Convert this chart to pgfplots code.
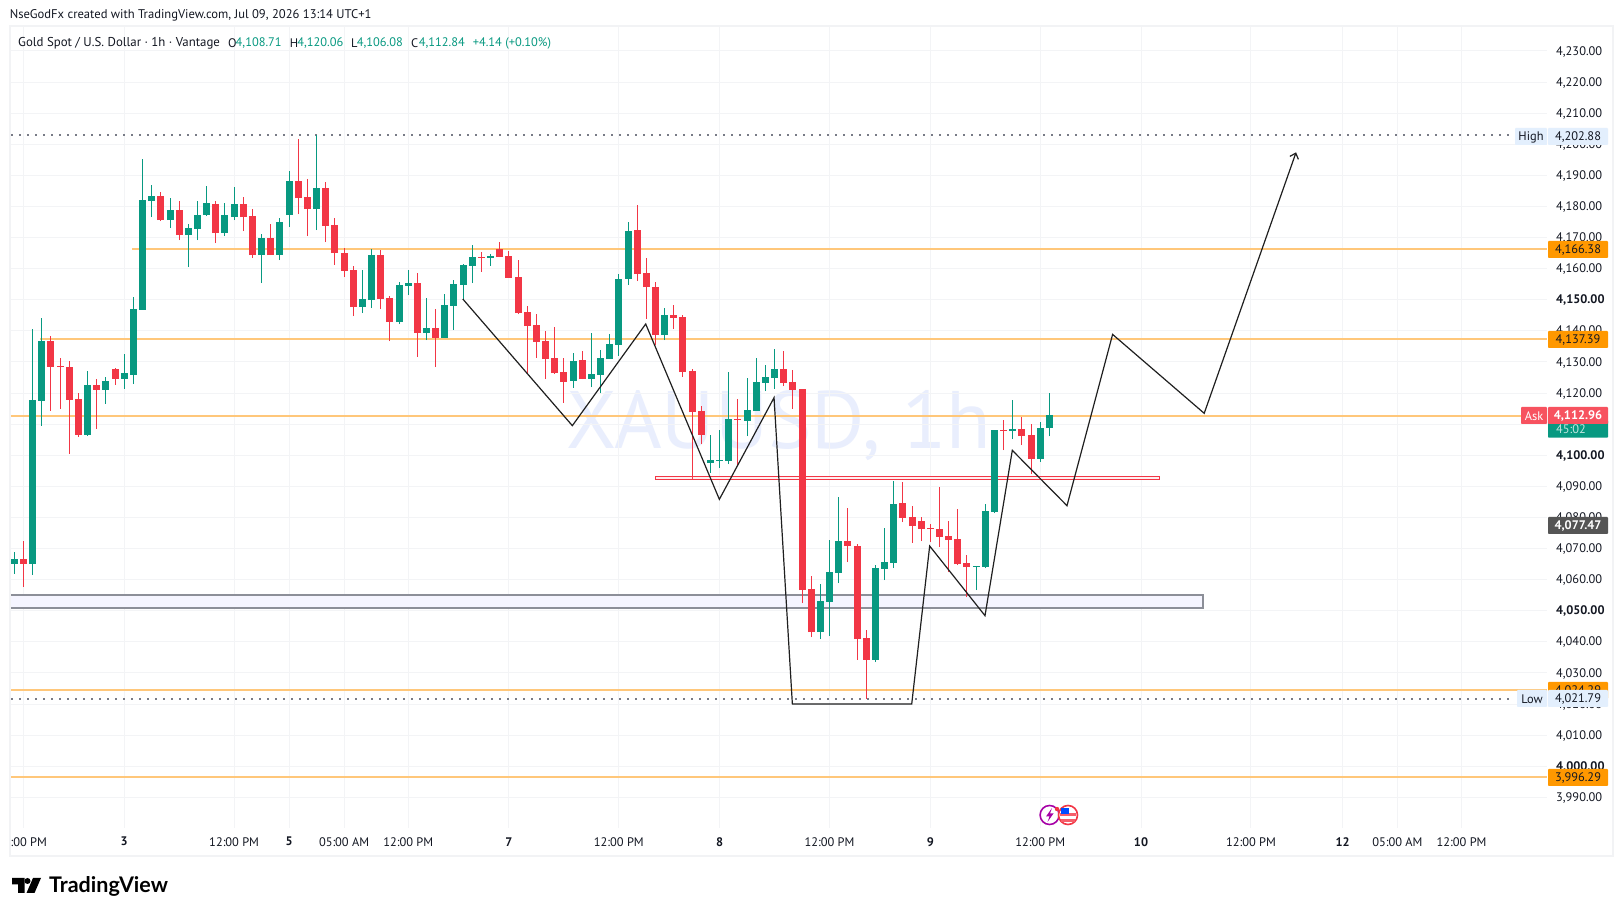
\documentclass[border=0pt]{standalone}
\usepackage{fontspec}
\setmainfont{PT Sans}
\newfontfamily\logofont{Lato}
\usepackage{pgfplots}
\usepackage{pgfplotstable}
\pgfplotsset{compat=1.18}
\usetikzlibrary{arrows.meta}
\definecolor{tvgreen}{HTML}{089981}
\definecolor{tvred}{HTML}{F23645}
\definecolor{tvorange}{HTML}{FFC77A}
\definecolor{tvgrid}{HTML}{F3F4F6}
\definecolor{tvtext}{HTML}{131722}
\definecolor{tvframe}{HTML}{F2F3F5}
\definecolor{tvgrey}{HTML}{787B86}
\definecolor{tagorange}{HTML}{FF9800}
\definecolor{tagblue}{HTML}{E3EFFD}
\definecolor{tagred}{HTML}{F7525F}
\definecolor{tagdark}{HTML}{555555}
\definecolor{wm}{HTML}{E9EEFD}
\newcommand\lab{\fontsize{12.4}{14}\selectfont}
\pgfplotstableread{
i o h l c
0 4065.05 4068.91 4061.84 4066.66
2 4065.05 4140.62 4061.52 4117.79
3 4117.46 4144.15 4109.43 4136.76
8 4106.53 4127.11 4106.21 4122.61
10 4121.00 4125.18 4116.50 4123.89
12 4124.54 4132.58 4121.32 4126.47
13 4125.82 4150.90 4122.92 4147.04
14 4146.72 4195.27 4146.72 4182.09
15 4181.76 4186.91 4176.62 4183.37
17 4175.65 4182.73 4173.08 4178.87
19 4170.83 4174.37 4160.54 4173.08
20 4172.76 4181.76 4169.22 4177.26
21 4177.26 4186.59 4176.94 4181.12
23 4171.47 4181.12 4170.51 4177.26
24 4176.62 4186.27 4175.65 4180.80
27 4164.40 4171.15 4155.40 4169.87
29 4164.40 4176.30 4162.79 4175.01
30 4177.26 4191.41 4173.40 4188.19
33 4179.19 4202.88 4172.44 4185.94
38 4147.68 4159.58 4145.75 4150.25
39 4149.93 4166.33 4147.36 4164.40
42 4142.86 4155.72 4142.21 4154.75
43 4154.44 4159.58 4151.54 4155.40
45 4139.32 4150.58 4137.07 4140.93
47 4137.72 4151.86 4137.72 4148.33
48 4148.01 4156.37 4140.29 4155.08
49 4154.76 4161.51 4149.93 4161.19
50 4160.87 4167.62 4155.40 4163.76
52 4163.44 4164.73 4160.87 4164.08
61 4123.89 4132.89 4121.64 4130.32
63 4124.53 4139.32 4121.96 4126.14
64 4125.82 4133.86 4120.03 4131.29
65 4130.96 4139.00 4130.96 4135.79
66 4135.47 4158.29 4131.93 4156.69
67 4156.69 4175.02 4154.76 4172.12
71 4138.68 4147.36 4137.07 4145.11
76 4097.52 4106.53 4094.31 4098.49
77 4098.17 4108.13 4095.92 4098.49
78 4098.17 4126.78 4097.20 4111.67
80 4111.03 4124.85 4106.20 4114.57
81 4114.24 4131.29 4114.24 4123.57
82 4123.25 4129.03 4120.67 4125.18
83 4124.85 4134.18 4121.32 4127.75
88 4043.18 4058.61 4040.93 4053.15
89 4052.83 4072.76 4041.89 4062.47
90 4062.15 4086.59 4058.93 4072.44
94 4034.18 4064.72 4033.53 4063.76
95 4063.44 4076.62 4059.90 4065.69
96 4065.37 4091.73 4063.76 4084.34
105 4064.19 4064.51 4056.68 4064.51
106 4064.08 4084.34 4063.76 4082.09
107 4081.76 4108.13 4081.44 4108.13
109 4107.81 4117.78 4105.24 4108.45
112 4098.81 4110.70 4097.84 4108.77
113 4108.71 4120.06 4106.08 4112.84
}\greencandles
\pgfplotstableread{
i o h l c
1 4066.66 4072.45 4057.66 4065.05
4 4136.76 4138.36 4114.25 4128.40
5 4128.72 4131.29 4114.89 4128.40
6 4128.40 4130.33 4100.42 4117.79
7 4118.11 4120.04 4105.89 4106.53
9 4122.61 4124.54 4108.46 4121.00
11 4127.75 4128.08 4122.61 4124.54
16 4183.37 4184.66 4175.33 4175.65
18 4178.87 4181.76 4169.22 4170.83
22 4180.80 4181.76 4168.26 4171.47
25 4180.80 4183.05 4172.12 4176.62
26 4176.94 4179.19 4163.44 4164.40
28 4169.87 4174.37 4164.40 4164.40
31 4188.19 4201.70 4177.58 4182.73
32 4183.05 4188.84 4170.51 4179.19
34 4185.94 4187.87 4168.58 4173.73
35 4174.05 4176.30 4161.19 4165.04
36 4165.04 4166.65 4157.33 4159.26
37 4159.58 4160.86 4144.79 4147.68
40 4164.40 4166.01 4147.04 4150.25
41 4150.57 4151.22 4136.75 4142.86
44 4155.40 4158.62 4131.61 4139.32
46 4140.93 4147.04 4128.39 4137.72
51 4163.76 4165.37 4158.94 4163.44
53 4166.33 4168.58 4163.76 4163.76
54 4164.08 4165.69 4157.01 4157.01
55 4157.33 4162.80 4145.43 4145.75
56 4146.08 4148.01 4126.14 4141.57
57 4141.90 4145.43 4131.29 4136.43
58 4136.75 4139.97 4124.53 4130.96
59 4131.29 4141.25 4126.14 4126.46
60 4126.78 4131.29 4116.82 4123.57
62 4130.64 4133.54 4124.53 4124.53
68 4172.44 4180.48 4156.04 4158.29
69 4158.62 4163.44 4143.83 4154.11
70 4154.11 4155.72 4135.47 4138.68
72 4145.11 4148.33 4140.61 4144.15
73 4144.47 4145.11 4125.18 4126.78
74 4127.11 4127.75 4092.06 4113.92
75 4114.24 4115.85 4103.63 4106.53
79 4111.67 4118.10 4096.56 4111.35
84 4127.75 4133.54 4122.28 4123.25
85 4123.57 4127.43 4114.89 4121.00
86 4121.31 4121.31 4052.50 4056.68
87 4057.01 4061.19 4041.57 4043.18
91 4072.44 4083.05 4065.69 4070.83
92 4070.83 4071.48 4034.18 4040.93
93 4041.25 4043.82 4021.79 4034.18
97 4084.66 4091.41 4078.55 4079.84
98 4080.16 4083.69 4071.80 4077.26
99 4078.87 4080.16 4072.44 4076.30
100 4076.62 4077.91 4072.12 4076.30
101 4076.30 4089.80 4070.51 4073.73
102 4074.05 4078.87 4062.47 4072.76
103 4073.08 4082.73 4064.72 4065.04
104 4065.37 4067.94 4054.43 4064.08
108 4108.13 4111.35 4101.70 4107.81
110 4108.45 4112.31 4103.31 4106.20
111 4106.52 4110.06 4093.98 4098.81
}\redcandles
\begin{document}
\begin{tikzpicture}
\useasboundingbox (0,0) rectangle (1623pt,916pt);
\fill[white] (0,0) rectangle (1623pt,916pt);
\begin{scope}[x=1pt,y=-1pt,yshift=916pt]
\node[anchor=west,inner sep=0pt,text=wm,font=\fontsize{81.5}{90}\selectfont] at (566,426) {XAUUSD, 1h};
\draw[tvframe,line width=2pt] (10,26.5) rectangle (1612.5,856);
\end{scope}
\begin{axis}[
  at={(11pt,88pt)},anchor=south west,
  scale only axis,width=1536pt,height=801pt,
  xmin=-0.36,xmax=167.32,ymin=3980.16,ymax=4237.72,
  axis line style={draw=none},
  major tick length=0pt,
  grid=major,grid style={tvgrid,line width=1pt},
  ytick={3990,4000,4010,4020,4030,4040,4050,4060,4070,4080,4090,4100,4110,4120,4130,4140,4150,4160,4170,4180,4190,4200,4210,4220,4230},
  yticklabels={{3,990.00},{\textbf{4,000.00}},{4,010.00},{4,020.00},{4,030.00},{4,040.00},{\textbf{4,050.00}},{4,060.00},{4,070.00},{4,080.00},{4,090.00},{\textbf{4,100.00}},{4,110.00},{4,120.00},{4,130.00},{4,140.00},{\textbf{4,150.00}},{4,160.00},{4,170.00},{4,180.00},{4,190.00},{4,200.00},{4,210.00},{4,220.00},{4,230.00}},
  yticklabel pos=right,
  yticklabel style={anchor=west,inner sep=0pt,xshift=9pt,yshift=-0.6pt,text=tvtext,font=\lab},
  xtick={1,12,24,30,36,43,54,66,77,89,100,112,123,135,145,151,158},
  xticklabels={{\hspace*{10.6pt}:00 PM},{\textbf{3}},{12:00 PM},{\textbf{5}},{05:00 AM},{12:00 PM},{\textbf{7}},{12:00 PM},{\textbf{8}},{12:00 PM},{\textbf{9}},{12:00 PM},{\textbf{10}},{12:00 PM},{\textbf{12}},{05:00 AM},{12:00 PM}},
  xticklabel style={anchor=center,inner sep=0pt,yshift=-13.7pt,text=tvtext,font=\lab},
]
% zones
\addplot[draw=tvred,line width=1pt,fill=tvred!8] coordinates {(70,4093.25)(125,4093.25)(125,4092.28)(70,4092.28)(70,4093.25)};
\addplot[draw=tvgrey!85,line width=1.7pt,fill=blue!4] coordinates {(-3,4055.08)(129.8,4055.08)(129.8,4050.9)(-3,4050.9)(-3,4055.08)};
% horizontal levels
\addplot[tvorange,line width=2pt] coordinates {(12.85,4166.38)(168,4166.38)};
\addplot[tvorange,line width=2pt] coordinates {(2.8,4137.39)(168,4137.39)};
\addplot[tvorange,line width=2pt] coordinates {(-1,4112.5)(168,4112.5)};
\addplot[tvorange,line width=2pt] coordinates {(-1,4024.45)(168,4024.45)};
\addplot[tvorange,line width=2pt] coordinates {(-1,3996.6)(168,3996.6)};
\addplot[tvgrey,line width=2pt,dash pattern=on 2pt off 6pt] coordinates {(-0.36,4202.88)(163.6,4202.88)};
\addplot[tvgrey,line width=2pt,dash pattern=on 2pt off 6pt] coordinates {(-0.36,4021.79)(163.6,4021.79)};
% wicks and bodies
\addplot[draw=none,mark=none,error bars/.cd,y dir=plus,y explicit,error mark=none,error bar style={tvgreen,line width=1pt}] table[x=i,y=l,y error plus expr=\thisrow{h}-\thisrow{l}] {\greencandles};
\addplot[draw=none,mark=none,error bars/.cd,y dir=plus,y explicit,error mark=none,error bar style={tvred,line width=1pt}] table[x=i,y=l,y error plus expr=\thisrow{h}-\thisrow{l}] {\redcandles};
\addplot[draw=none,mark=none,error bars/.cd,y dir=plus,y explicit,error mark=none,error bar style={tvgreen,line width=7pt}] table[x=i,y=o,y error plus expr=\thisrow{c}-\thisrow{o}] {\greencandles};
\addplot[draw=none,mark=none,error bars/.cd,y dir=plus,y explicit,error mark=none,error bar style={tvred,line width=7pt}] table[x=i,y=c,y error plus expr=\thisrow{o}-\thisrow{c}] {\redcandles};
% projection path
\addplot[black!88,line width=1.2pt,line join=miter,-{Straight Barb[length=5pt,width=9pt]}] coordinates {
(48.96,4150.26)(60.92,4109.53)(68.93,4142.22)(76.97,4085.84)(82.94,4118.53)(84.94,4020.03)(97.97,4020.03)(99.93,4070.83)(105.97,4048.43)(108.95,4101.59)(114.92,4083.80)(119.9,4138.87)(129.9,4113.5)(139.93,4197.43)};
\end{axis}
\begin{scope}[x=1pt,y=-1pt,yshift=916pt]
\newcommand\tagbox[7]{\fill[#5,rounded corners=0.8pt] (#1,#3) rectangle (#2,#4);
 \node[inner sep=0pt,text=#6,font=\lab] at ({(#1+#2)/2},{(#3+#4)/2+0.6}) {#7};}
\tagbox{1515}{1547}{128}{145}{tagblue}{tvtext}{High}
\tagbox{1548}{1608}{128}{145}{tagblue}{tvtext}{4,202.88}
\tagbox{1548}{1608}{241}{258}{tagorange}{tvtext}{4,166.38}
\tagbox{1548}{1608}{331}{348}{tagorange}{tvtext}{4,137.39}
\fill[tvgreen,rounded corners=0.8pt] (1548,420) rectangle (1608,437.7);
\node[inner sep=0pt,text=white!75!tvgreen,font=\lab,anchor=west] at (1556,429.5) {45:02};
\tagbox{1521}{1547}{407}{424}{tagred}{white}{Ask}
\tagbox{1548}{1608}{407}{424}{tagred}{white}{\textbf{4,112.96}}
\tagbox{1548}{1608}{517}{534}{tagdark}{white}{\textbf{4,077.47}}
\tagbox{1548}{1608}{682}{699}{tagorange}{tvtext}{4,024.29}
\tagbox{1517}{1547}{690}{707}{tagblue}{tvtext}{Low}
\tagbox{1548}{1608}{690}{707}{tagblue}{tvtext}{4,021.79}
\tagbox{1548}{1608}{769}{786}{tagorange}{tvtext}{3,996.29}
% header
\node[anchor=west,inner sep=0pt,text=tvtext,font=\fontsize{12.6}{14}\selectfont] at (9.6,15.5) {NseGodFx created with TradingView.com, Jul 09, 2026 13:14 UTC+1};
\node[anchor=west,inner sep=0pt,text=tvtext,font=\fontsize{12.85}{14}\selectfont] at (18,43) {Gold Spot / U.S. Dollar · 1h · Vantage};
\node[anchor=west,inner sep=0pt,text=tvtext,font=\lab] at (228,43) {O};
\node[anchor=west,inner sep=0pt,text=tvgreen,font=\lab] at (235.5,43) {4,108.71};
\node[anchor=west,inner sep=0pt,text=tvtext,font=\lab] at (289.7,43) {H};
\node[anchor=west,inner sep=0pt,text=tvgreen,font=\lab] at (297.2,43) {4,120.06};
\node[anchor=west,inner sep=0pt,text=tvtext,font=\lab] at (351,43) {L};
\node[anchor=west,inner sep=0pt,text=tvgreen,font=\lab] at (356.7,43) {4,106.08};
\node[anchor=west,inner sep=0pt,text=tvtext,font=\lab] at (411,43) {C};
\node[anchor=west,inner sep=0pt,text=tvgreen,font=\lab] at (418.7,43) {4,112.84};
\node[anchor=west,inner sep=0pt,text=tvgreen,font=\lab] at (472.6,43) {+4.14 (+0.10\%)};
% event icons
\draw[violet!70!magenta,line width=1.6pt,fill=white] (1049.6,815) circle (9.5);
\fill[violet!70!magenta] (1052,808) -- (1046,816.5) -- (1049.5,816.5) -- (1047.5,822) -- (1053.5,813.5) -- (1050,813.5) -- cycle;
\draw[tvred,line width=1.6pt,fill=white] (1068,815) circle (9.5);
\fill[tvred!80] (1060,813.5) rectangle (1076,816.5);
\fill[tvred!80] (1061,819.5) rectangle (1075,822);
\fill[blue!70!cyan] (1060.5,808) rectangle (1068.5,814.5);
\fill[tvred] (1057,809) circle (2.2);
% logo
\fill[black] (12,878) -- (24.5,878) -- (24.5,893) -- (18,893) -- (18,884.5) -- (12,884.5) -- cycle;
\fill[black] (27.5,881) circle (3);
\fill[black] (33,878) -- (41,878) -- (34.5,893) -- (26.5,893) -- cycle;
\node[anchor=west,inner sep=0pt,text=black,font=\logofont\bfseries\fontsize{21.5}{24}\selectfont] at (49,886) {TradingView};
\end{scope}
\end{tikzpicture}
\end{document}
